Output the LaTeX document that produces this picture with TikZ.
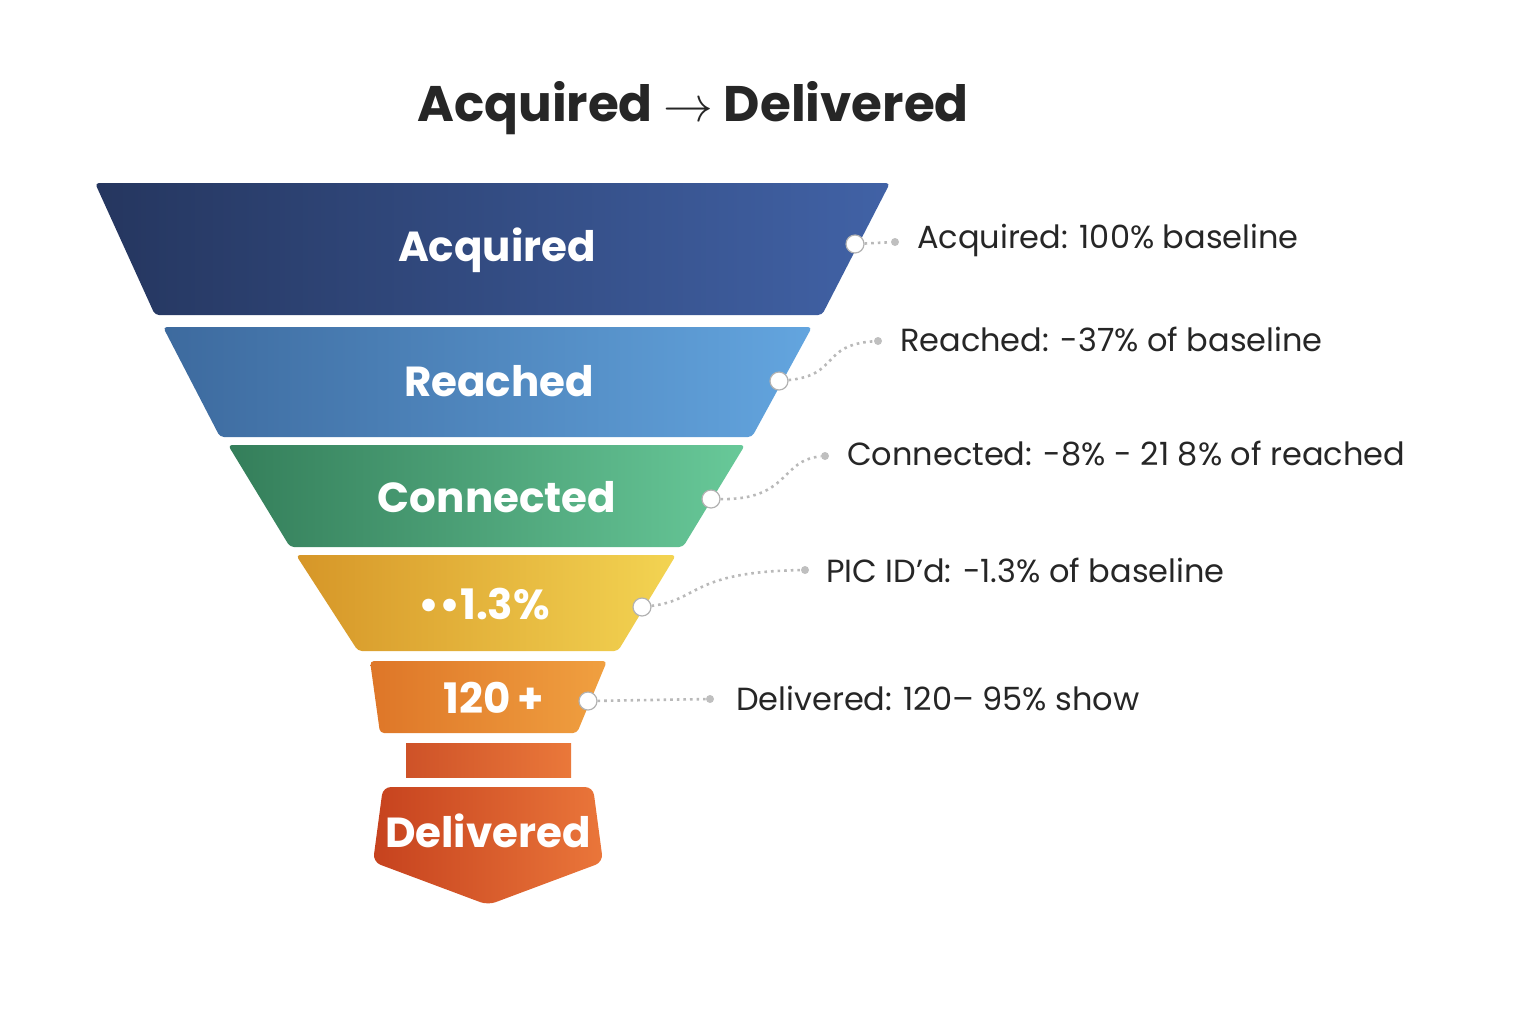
\documentclass[tikz,border=0pt]{standalone}
\usepackage{fontspec}
\setmainfont{Poppins}
\usetikzlibrary{shapes.geometric}
\begin{document}
\begin{tikzpicture}[x=0.5pt,y=-0.5pt,
  band/.style={rounded corners=2pt},
  lbl/.style={text=white,font=\bfseries\fontsize{21}{24}\selectfont},
  note/.style={anchor=west,text=black!85,font=\fontsize{16}{19}\selectfont},
  pin/.style={circle,fill=white,draw=gray!60,line width=0.6pt,inner sep=0pt,minimum size=9pt},
  end/.style={circle,fill=gray!50,inner sep=0pt,minimum size=4pt},
  lead/.style={draw=gray!55,line width=1.3pt,dotted}]
\useasboundingbox (0,0) rectangle (1536,1024);
\node[font=\bfseries\fontsize{25}{30}\selectfont,text=black!85] (title) at (693,108) {Acquired $\rightarrow$ Delivered};
\shade[band,left color=black!5!blue!30!black!80!white,left color={rgb,255:red,37;green,54;blue,95},right color={rgb,255:red,65;green,98;blue,166}] (95,183) -- (890,183) -- (822,315) -- (155,315) -- cycle;
\shade[band,left color={rgb,255:red,61;green,106;blue,158},right color={rgb,255:red,99;green,165;blue,223}] (163,327) -- (812,327) -- (752,437) -- (220,437) -- cycle;
\shade[band,left color={rgb,255:red,52;green,126;blue,90},right color={rgb,255:red,104;green,201;blue,153}] (228,445) -- (745,445) -- (683,547) -- (290,547) -- cycle;
\shade[band,left color={rgb,255:red,214;green,150;blue,40},right color={rgb,255:red,243;green,212;blue,82}] (296,555) -- (676,555) -- (618,651) -- (358,651) -- cycle;
\shade[band,left color={rgb,255:red,222;green,118;blue,40},right color={rgb,255:red,240;green,160;blue,64}] (370,661) -- (607,661) -- (577,733) -- (380,733) -- cycle;
\shade[left color={rgb,255:red,206;green,82;blue,40},right color={rgb,255:red,234;green,120;blue,58}] (406,743) rectangle (571,777);
\shade[rounded corners=4pt,left color={rgb,255:red,198;green,66;blue,30},right color={rgb,255:red,234;green,118;blue,58}] (383,787) -- (593,787) -- (603,862) -- (488,905) -- (373,862) -- cycle;
\node[lbl] (l1) at (497,250) {Acquired};
\node[lbl] (l2) at (499,381) {Reached};
\node[lbl] (l3) at (497,497) {Connected};
\node[lbl] (l4) at (484,604) {••1.3\%};
\node[lbl] (l5) at (494,698) {120\,+};
\node[lbl] (l6) at (488,831) {Delivered};
\node[pin] (p1) at (855,244) {};
\node[pin] (p2) at (779,381) {};
\node[pin] (p3) at (711,499) {};
\node[pin] (p4) at (642,607) {};
\node[pin] (p5) at (588,701) {};
\node[end] (e1) at (895,242) {};
\node[end] (e2) at (878,341) {};
\node[end] (e3) at (825,456) {};
\node[end] (e4) at (805,570) {};
\node[end] (e5) at (710,699) {};
\draw[lead] (p1) -- (e1);
\draw[lead] (p2) .. controls (840,375) and (820,345) .. (e2);
\draw[lead] (p3) .. controls (790,500) and (780,460) .. (e3);
\draw[lead] (p4) .. controls (700,600) and (690,572) .. (e4);
\draw[lead] (p5) -- (e5);
\node[note] (t1) at (910,240) {Acquired: 100\% baseline};
\node[note] (t2) at (893,339) {Reached: -37\% of baseline};
\node[note] (t3) at (840,454) {Connected: -8\% - 21 8\% of reached};
\node[note] (t4) at (819,570) {PIC ID’d: -1.3\% of baseline};
\node[note] (t5) at (729,699) {Delivered: 120-- 95\% show};
\end{tikzpicture}
\end{document}
